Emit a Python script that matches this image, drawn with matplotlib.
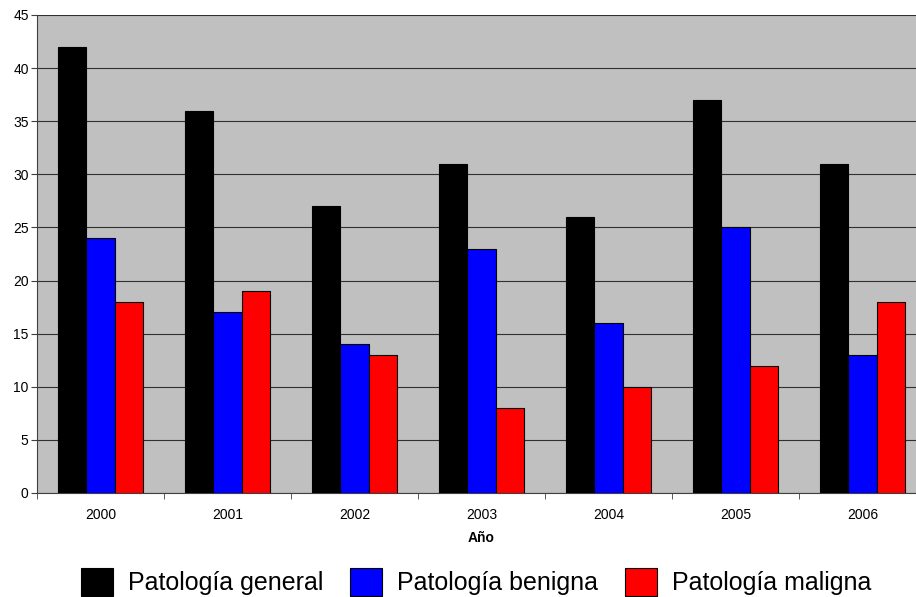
import numpy as np
import matplotlib.pyplot as plt

plt.rcParams['font.family'] = ['Liberation Sans', 'DejaVu Sans']

years = ["2000", "2001", "2002", "2003", "2004", "2005", "2006"]
general = [42, 36, 27, 31, 26, 37, 31]
benigna = [24, 17, 14, 23, 16, 25, 13]
maligna = [18, 19, 13, 8, 10, 12, 18]

fig = plt.figure(figsize=(9.16, 5.97), dpi=100)
# plot area runs slightly past the right edge, as in the original
ax = fig.add_axes([37 / 916, 104 / 597, 889 / 916, 478 / 597])
ax.set_facecolor('#C0C0C0')

x = np.arange(len(years))
w = 0.223
ax.bar(x - w, general, w, color='black', edgecolor='black', linewidth=0.8, label='Patología general', zorder=3)
ax.bar(x, benigna, w, color='#0000FF', edgecolor='black', linewidth=0.8, label='Patología benigna', zorder=3)
ax.bar(x + w, maligna, w, color='#FF0000', edgecolor='black', linewidth=0.8, label='Patología maligna', zorder=3)

ax.set_xlim(-0.5, len(years) - 0.5)
ax.set_ylim(0, 45)
ax.set_yticks(np.arange(0, 46, 5))
ax.yaxis.grid(True, color='#303030', linewidth=0.8, zorder=1)
ax.set_axisbelow(True)

ax.set_xticks(x)
ax.set_xticklabels(years, fontsize=10)
ax.set_xticks(np.arange(-0.5, len(years)), minor=True)
ax.tick_params(axis='x', which='major', length=0, pad=11)
ax.tick_params(axis='x', which='minor', length=4, color='#404040')
ax.tick_params(axis='y', labelsize=10, length=4, color='#404040', pad=2)
ax.set_xlabel('Año', fontsize=10, fontweight='bold', labelpad=6)

for s in ['top', 'right']:
    ax.spines[s].set_visible(False)
for s in ['left', 'bottom']:
    ax.spines[s].set_color('#404040')
    ax.spines[s].set_linewidth(0.8)

fig.legend(loc='center', bbox_to_anchor=(476 / 916, 1 - 582 / 597), ncol=3, frameon=False,
           fontsize=18, handlelength=1.3, handleheight=1.3, handletextpad=0.6,
           columnspacing=1.05)

fig.savefig('out.png', dpi=100)
